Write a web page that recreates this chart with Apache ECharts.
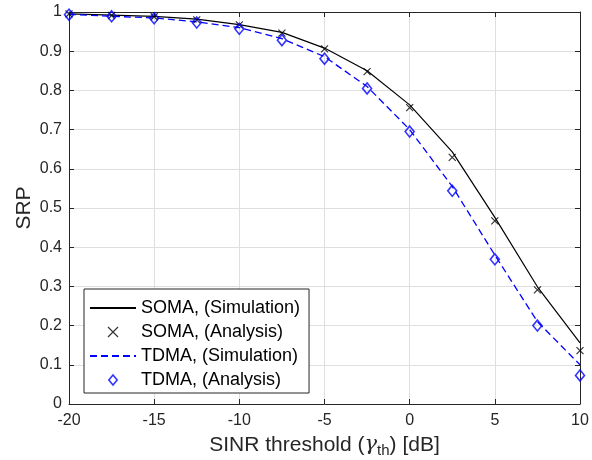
<!DOCTYPE html>
<html>
<head>
<meta charset="utf-8">
<script src="https://cdn.jsdelivr.net/npm/echarts@6/dist/echarts.min.js"></script>
<style>
html,body{margin:0;padding:0;background:#fff;}
#chart{width:592px;height:460px;}
</style>
</head>
<body>
<div id="chart"></div>
<script>
var thresholds = [-20, -17.5, -15, -12.5, -10, -7.5, -5, -2.5, 0, 2.5, 5, 7.5, 10];
var somaSim = [0.995, 0.992, 0.989, 0.982, 0.968, 0.948, 0.908, 0.850, 0.763, 0.643, 0.476, 0.299, 0.156];
var somaAna = [0.995, 0.991, 0.988, 0.980, 0.967, 0.946, 0.906, 0.848, 0.756, 0.629, 0.467, 0.291, 0.136];
var tdmaSim = [0.994, 0.989, 0.985, 0.975, 0.960, 0.932, 0.886, 0.810, 0.700, 0.555, 0.380, 0.210, 0.100];
var tdmaAna = [0.993, 0.989, 0.984, 0.973, 0.957, 0.928, 0.881, 0.805, 0.695, 0.544, 0.369, 0.200, 0.073];
var xTicks = [-20, -15, -10, -5, 0, 5, 10];
var yTicks = [0, 0.1, 0.2, 0.3, 0.4, 0.5, 0.6, 0.7, 0.8, 0.9, 1];
var seriesNames = ['SOMA, (Simulation)', 'SOMA, (Analysis)', 'TDMA, (Simulation)', 'TDMA, (Analysis)'];

function pairs(xs, ys) { return xs.map(function (x, i) { return [x, ys[i]]; }); }

var FONT = 'Liberation Sans, Arial, sans-serif';
var AX = '#262626';
var GRID = '#dfdfdf';
var crossPath = 'path://M0,0L10,10M10,0L0,10';
var diamondPath = 'path://M5,0L10,6L5,12L0,6Z';
var hidden = {color: 'rgba(0,0,0,0)', borderColor: 'rgba(0,0,0,0)', borderWidth: 0};

var chart = echarts.init(document.getElementById('chart'), null, {renderer: 'canvas'});

var xBase = {
  type: 'value', min: xTicks[0], max: xTicks[xTicks.length - 1], interval: 5,
  axisLine: {show: true, onZero: false, lineStyle: {color: AX, width: 1}},
  axisTick: {show: true, inside: true, length: 5, lineStyle: {color: AX}},
  splitLine: {show: false}
};
var yBase = {
  type: 'value', min: yTicks[0], max: yTicks[yTicks.length - 1], interval: 0.1,
  axisLine: {show: true, onZero: false, lineStyle: {color: AX, width: 1}},
  axisTick: {show: true, inside: true, length: 5, lineStyle: {color: AX}},
  splitLine: {show: false}
};

var option = {
  backgroundColor: '#fff',
  animation: false,
  grid: {left: 69, right: 12, top: 12, bottom: 56, containLabel: false, outerBoundsMode: 'none'},
  xAxis: [
    Object.assign({}, xBase, {
      position: 'bottom',
      splitLine: {show: true, lineStyle: {color: GRID, width: 1}},
      axisLabel: {show: true, color: AX, fontSize: 16, fontFamily: FONT, margin: 9},
      name: '{a|SINR threshold (}{g|γ}{s|th}{a|) [dB]}',
      nameLocation: 'middle', nameGap: 28, nameMoveOverlap: false,
      nameTextStyle: {
        color: AX, fontFamily: FONT, fontSize: 21,
        rich: {
          a: {fontSize: 21, fontFamily: FONT, color: AX, lineHeight: 26, verticalAlign: 'middle'},
          g: {fontSize: 21, fontFamily: 'DejaVu Serif, serif', fontStyle: 'italic', color: AX, lineHeight: 26, verticalAlign: 'middle'},
          s: {fontSize: 15, fontFamily: FONT, color: AX, lineHeight: 26, verticalAlign: 'bottom', padding: [16, 0, 0, 0]}
        }
      }
    }),
    Object.assign({}, xBase, {position: 'top', axisLabel: {show: false}})
  ],
  yAxis: [
    Object.assign({}, yBase, {
      position: 'left',
      splitLine: {show: true, lineStyle: {color: GRID, width: 1}},
      axisLabel: {show: true, color: AX, fontSize: 16, fontFamily: FONT, margin: 7},
      name: 'SRP', nameLocation: 'middle', nameGap: 34, nameMoveOverlap: false,
      nameTextStyle: {color: AX, fontFamily: FONT, fontSize: 21}
    }),
    Object.assign({}, yBase, {position: 'right', axisLabel: {show: false}})
  ],
  legend: {
    orient: 'vertical', left: 84, top: 289,
    backgroundColor: '#fff', borderColor: AX, borderWidth: 1, borderRadius: 0,
    padding: [10, 9, 4, 5], itemGap: 6, itemWidth: 46, itemHeight: 10,
    textStyle: {color: '#000', fontSize: 18, fontFamily: FONT, padding: [0, 0, 0, 0]},
    data: [
      {name: seriesNames[0], itemStyle: hidden},
      {name: seriesNames[1], icon: crossPath, itemStyle: {color: 'rgba(0,0,0,0)', borderColor: '#000', borderWidth: 1.2}},
      {name: seriesNames[2], itemStyle: hidden},
      {name: seriesNames[3], icon: diamondPath, itemStyle: {color: 'rgba(0,0,0,0)', borderColor: '#0000ff', borderWidth: 1.6}}
    ]
  },
  series: [
    {
      name: seriesNames[0], type: 'line', data: pairs(thresholds, somaSim),
      symbol: 'none', lineStyle: {color: '#000', width: 1.2}, itemStyle: {color: '#000'}, z: 3
    },
    {
      name: seriesNames[1], type: 'scatter', data: pairs(thresholds, somaAna),
      symbol: crossPath, symbolSize: 7, clip: false,
      itemStyle: {color: 'rgba(0,0,0,0)', borderColor: '#000', borderWidth: 1.2}, z: 4
    },
    {
      name: seriesNames[2], type: 'line', data: pairs(thresholds, tdmaSim),
      symbol: 'none', lineStyle: {color: '#0000ff', width: 1.3, type: [7, 4]}, itemStyle: {color: '#0000ff'}, z: 3
    },
    {
      name: seriesNames[3], type: 'scatter', data: pairs(thresholds, tdmaAna),
      symbol: diamondPath, symbolSize: [9, 11], clip: false,
      itemStyle: {color: 'rgba(0,0,0,0)', borderColor: '#0000ff', borderWidth: 1.6}, z: 4
    }
  ]
};
chart.setOption(option);
</script>
</body>
</html>
